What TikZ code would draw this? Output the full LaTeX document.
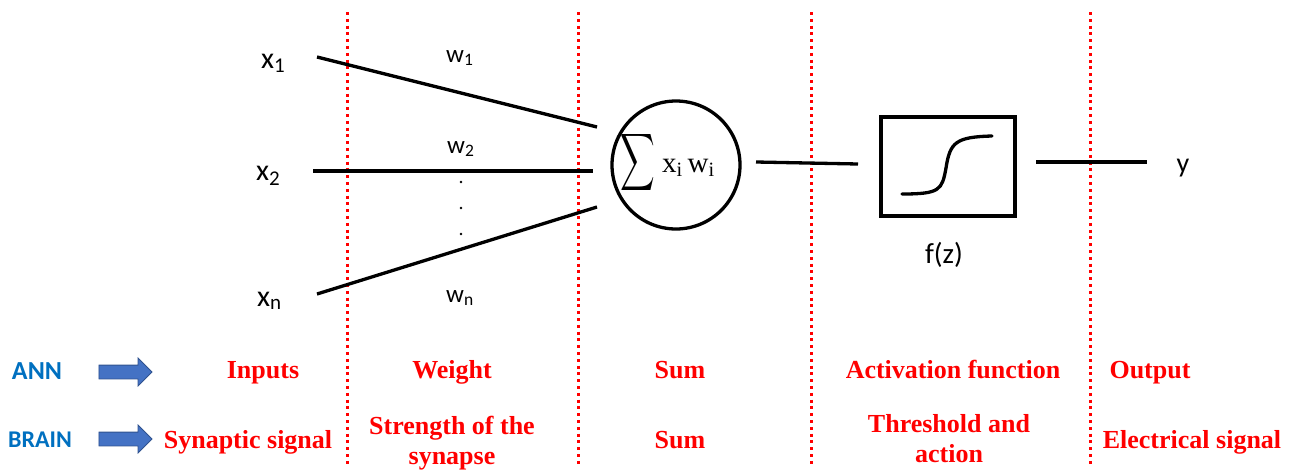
\documentclass[tikz,border=0pt]{standalone}
\usepackage{graphicx}
\usepackage{fontspec}
\setmainfont{Liberation Serif}
\newfontfamily\calib{Carlito}
\usetikzlibrary{shapes.arrows}
\definecolor{annblue}{RGB}{0,112,192}
\definecolor{arrblue}{RGB}{68,114,196}
\definecolor{arrborder}{RGB}{47,82,143}
\tikzset{
  sep/.style={red, line width=3pt, dash pattern=on 3pt off 3.8pt},
  wire/.style={line width=3.3pt},
  lbl/.style={font=\calib\fontsize{30}{34}\selectfont, inner sep=0pt, anchor=base west},
  wlbl/.style={font=\calib\fontsize{25}{28}\selectfont, inner sep=0pt, anchor=base west},
  cat/.style={red, font=\bfseries\fontsize{26}{30}\selectfont, align=center, inner sep=0pt, anchor=base},
  side/.style={annblue, font=\calib\bfseries\fontsize{24}{28}\selectfont, inner sep=0pt},
  barr/.style={single arrow, fill=arrblue, draw=arrborder, line width=0.8pt, minimum height=53pt, inner xsep=0pt, inner ysep=6.5pt, single arrow head extend=7pt, single arrow tip angle=90},
  dot/.style={circle, fill=black, inner sep=0pt, minimum size=2.6pt}
}
\begin{document}
\begin{tikzpicture}[x=1pt,y=-1pt]
\useasboundingbox (0,0) rectangle (1297,471);
% separators
\foreach \xx/\nm in {347/s1,578/s2,811/s3,1090/s4}{
  \coordinate (\nm t) at (\xx,12);
  \coordinate (\nm b) at (\xx,467);
  \draw[sep] (\nm t) -- (\nm b);
}
% inputs
\node[lbl] (x1) at (261,68) {x\textsubscript{1}};
\node[lbl] (x2) at (256,180) {x\textsubscript{2}};
\node[lbl] (xn) at (257,306) {x\textsubscript{n}};
\coordinate (a1) at (317,57);
\coordinate (a2) at (313,171);
\coordinate (an) at (317,294);
\coordinate (b1) at (597,127);
\coordinate (b2) at (593,171);
\coordinate (bn) at (597,207);
\draw[wire] (a1) -- (b1);
\draw[wire] (a2) -- (b2);
\draw[wire] (an) -- (bn);
\node[wlbl] (w1) at (446,62) {w\textsubscript{1}};
\node[wlbl] (w2) at (447,153) {w\textsubscript{2}};
\node[wlbl] (wn) at (446,302) {w\textsubscript{n}};
\node[dot] (d1) at (461,182) {};
\node[dot] (d2) at (461,208) {};
\node[dot] (d3) at (461,234) {};
% sum circle
\node[circle, draw, line width=3.3pt, minimum size=128pt, inner sep=0pt] (sum) at (676,165) {};
\node[inner sep=0pt] (sigma) at (638,162) {\scalebox{2.4}[4.0]{$\displaystyle\sum$}};
\node[inner sep=0pt, anchor=base west, font=\fontsize{29}{32}\selectfont] (sumtxt) at (662,172) {x\textsubscript{i}\,w\textsubscript{i}};
% activation
\node[draw, line width=3.3pt, minimum width=134pt, minimum height=99pt, inner sep=0pt] (act) at (948,166.5) {};
\coordinate (c1) at (756,162);
\coordinate (c2) at (858,164);
\draw[wire] (c1) -- (c2);
\draw[line width=3.3pt, line cap=round] (902,194) .. controls (940,194) and (942,190) .. (946,168) .. controls (950,142) and (956,137) .. (992,136);
\node[inner sep=0pt, font=\calib\fontsize{29}{32}\selectfont] (fz) at (944,255) {f(z)};
\coordinate (o1) at (1036,162);
\coordinate (o2) at (1147,162);
\draw[wire] (o1) -- (o2);
\node[inner sep=0pt, anchor=base, font=\calib\fontsize{28}{32}\selectfont] (y) at (1183,172) {y};
% rows
\node[side, font=\calib\bfseries\fontsize{26}{28}\selectfont] (ann) at (37,371) {ANN};
\node[side] (brain) at (40,440) {BRAIN};
\node[barr] (arr1) at (122,372) {};
\node[barr] (arr2) at (122,439) {};
\node[cat] (inp) at (263,378) {Inputs};
\node[cat] (wt) at (452,378) {Weight};
\node[cat] (sm1) at (680,378) {Sum};
\node[cat] (af) at (953,378) {Activation function};
\node[cat] (out) at (1150,378) {Output};
\node[cat] (syn) at (248,448) {Synaptic signal};
\node[cat] (str) at (452,464) {Strength of the\\synapse};
\node[cat] (sm2) at (680,448) {Sum};
\node[cat] (thr) at (949,462) {Threshold and\\action};
\node[cat] (el) at (1192,448) {Electrical signal};
\end{tikzpicture}
\end{document}
